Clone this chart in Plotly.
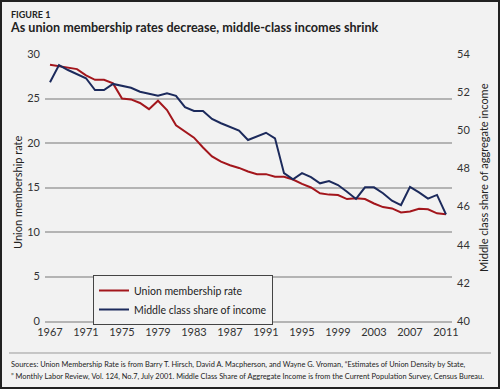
import plotly.graph_objects as go

# ---------------- data ----------------
years = list(range(1967, 2012))
union_rate = [28.8, 28.65, 28.5, 28.3, 27.6, 27.1, 27.1, 26.7, 25.0, 24.9,
              24.5, 23.8, 24.75, 23.7, 22.0, 21.3, 20.6, 19.5, 18.5, 17.9,
              17.5, 17.2, 16.8, 16.5, 16.5, 16.2, 16.2, 15.9, 15.4, 15.0,
              14.35, 14.2, 14.15, 13.7, 13.8, 13.7, 13.2, 12.8, 12.65, 12.2,
              12.3, 12.6, 12.55, 12.1, 12.0]
middle_share = [52.52, 53.42, 53.16, 52.95, 52.73, 52.11, 52.11, 52.43, 52.34, 52.23,
                52.02, 51.90, 51.81, 51.94, 51.81, 51.21, 51.01, 51.01, 50.59, 50.37,
                50.19, 49.98, 49.49, 49.68, 49.87, 49.58, 47.75, 47.43, 47.75, 47.54,
                47.22, 47.34, 47.13, 46.78, 46.40, 47.01, 47.01, 46.70, 46.31, 46.08,
                47.03, 46.74, 46.42, 46.61, 45.59]
tick_years = list(range(1967, 2012, 4))
series_names = ["Union membership rate", "Middle class share of income"]

title_small = "FIGURE 1"
title_main = "As union membership rates decrease, middle-class incomes shrink"
left_title = "Union membership rate"
right_title = "Middle class share of aggregate income"
source_1 = "Sources: Union Membership Rate is from Barry T. Hirsch, David A. Macpherson, and Wayne G. Vroman, \u201cEstimates of Union Density by State,"
source_2 = "\u201d Monthly Labor Review, Vol. 124, No.7, July 2001. Middle Class Share of Aggregate Income is from the Current Population Survey, Census Bureau."

# ---------------- layout geometry ----------------
W_FIG, H_FIG = 500, 389
L, R, T, B = 45, 452, 54, 321
PW, PH = R - L, B - T


def px(x):
    return (x - L) / PW


def py(y):
    return (B - y) / PH


FONT = "Lato, 'Open Sans', sans-serif"
BG = "#f2f2f2"
RED = "#a3161c"
BLUE = "#1c2a5c"
GRID = "#b4b4b4"

fig = go.Figure()
fig.add_trace(go.Scatter(x=years, y=union_rate, name=series_names[0], mode="lines",
                         line=dict(color=RED, width=2), yaxis="y"))
fig.add_trace(go.Scatter(x=years, y=middle_share, name=series_names[1], mode="lines",
                         line=dict(color=BLUE, width=2), yaxis="y2"))

fig.update_layout(
    width=W_FIG, height=H_FIG,
    margin=dict(l=L, r=W_FIG - R, t=T, b=H_FIG - B, pad=0),
    paper_bgcolor=BG, plot_bgcolor=BG,
    font=dict(family=FONT, size=11, color="#333"),
    showlegend=True,
    legend=dict(x=px(93), y=py(275), xanchor="left", yanchor="top",
                bgcolor=BG, bordercolor="#444", borderwidth=1,
                font=dict(family=FONT, size=10.5, color="#222"),
                itemwidth=30, tracegroupgap=0),
    xaxis=dict(range=[1967 - 5 / 9, 2011 + 6 / 9], tickmode="array", tickvals=tick_years,
               ticktext=[str(y) for y in tick_years], showgrid=False, zeroline=False,
               showline=True, linecolor=GRID, linewidth=1.5, ticks="",
               tickfont=dict(size=11, color="#333")),
    yaxis=dict(range=[0, 30], dtick=5, showgrid=True, gridcolor=GRID, gridwidth=1.5,
               zeroline=False, ticks="", tickfont=dict(size=11, color="#333"),
               ticklabelstandoff=4),
    yaxis2=dict(range=[40, 54], dtick=2, overlaying="y", side="right", showgrid=False,
                zeroline=False, ticks="", tickfont=dict(size=11, color="#333"),
                ticklabelstandoff=4),
    annotations=[
        dict(text="<b>" + title_small + "</b>", x=px(9), y=py(14), xref="paper", yref="paper",
             xanchor="left", yanchor="middle", showarrow=False,
             font=dict(family=FONT, size=9, color="#222")),
        dict(text="<b>" + title_main + "</b>", x=px(8), y=py(28), xref="paper", yref="paper",
             xanchor="left", yanchor="middle", showarrow=False,
             font=dict(family=FONT, size=12.6, color="#222")),
        dict(text=left_title, x=px(18), y=py(193), xref="paper", yref="paper",
             xanchor="center", yanchor="middle", showarrow=False, textangle=-90,
             font=dict(family=FONT, size=11, color="#222")),
        dict(text=right_title, x=px(483), y=py(177), xref="paper", yref="paper",
             xanchor="center", yanchor="middle", showarrow=False, textangle=-90,
             font=dict(family=FONT, size=11, color="#222")),
        dict(text=source_1, x=px(9), y=py(364), xref="paper", yref="paper",
             xanchor="left", yanchor="middle", showarrow=False,
             font=dict(family=FONT, size=7.4, color="#222")),
        dict(text=source_2, x=px(9), y=py(376), xref="paper", yref="paper",
             xanchor="left", yanchor="middle", showarrow=False,
             font=dict(family=FONT, size=7.4, color="#222")),
    ],
    shapes=[
        dict(type="line", xref="paper", yref="paper", x0=px(9), x1=px(491),
             y0=py(353), y1=py(353), line=dict(color="#999", width=1)),
        dict(type="rect", xref="paper", yref="paper", x0=px(1), x1=px(499),
             y0=py(388), y1=py(1), line=dict(color="#222", width=2), layer="above"),
    ],
)

fig.write_html("out.html", config={"displayModeBar": False},
               post_script="document.body.style.margin='0';document.body.style.overflow='hidden';")
